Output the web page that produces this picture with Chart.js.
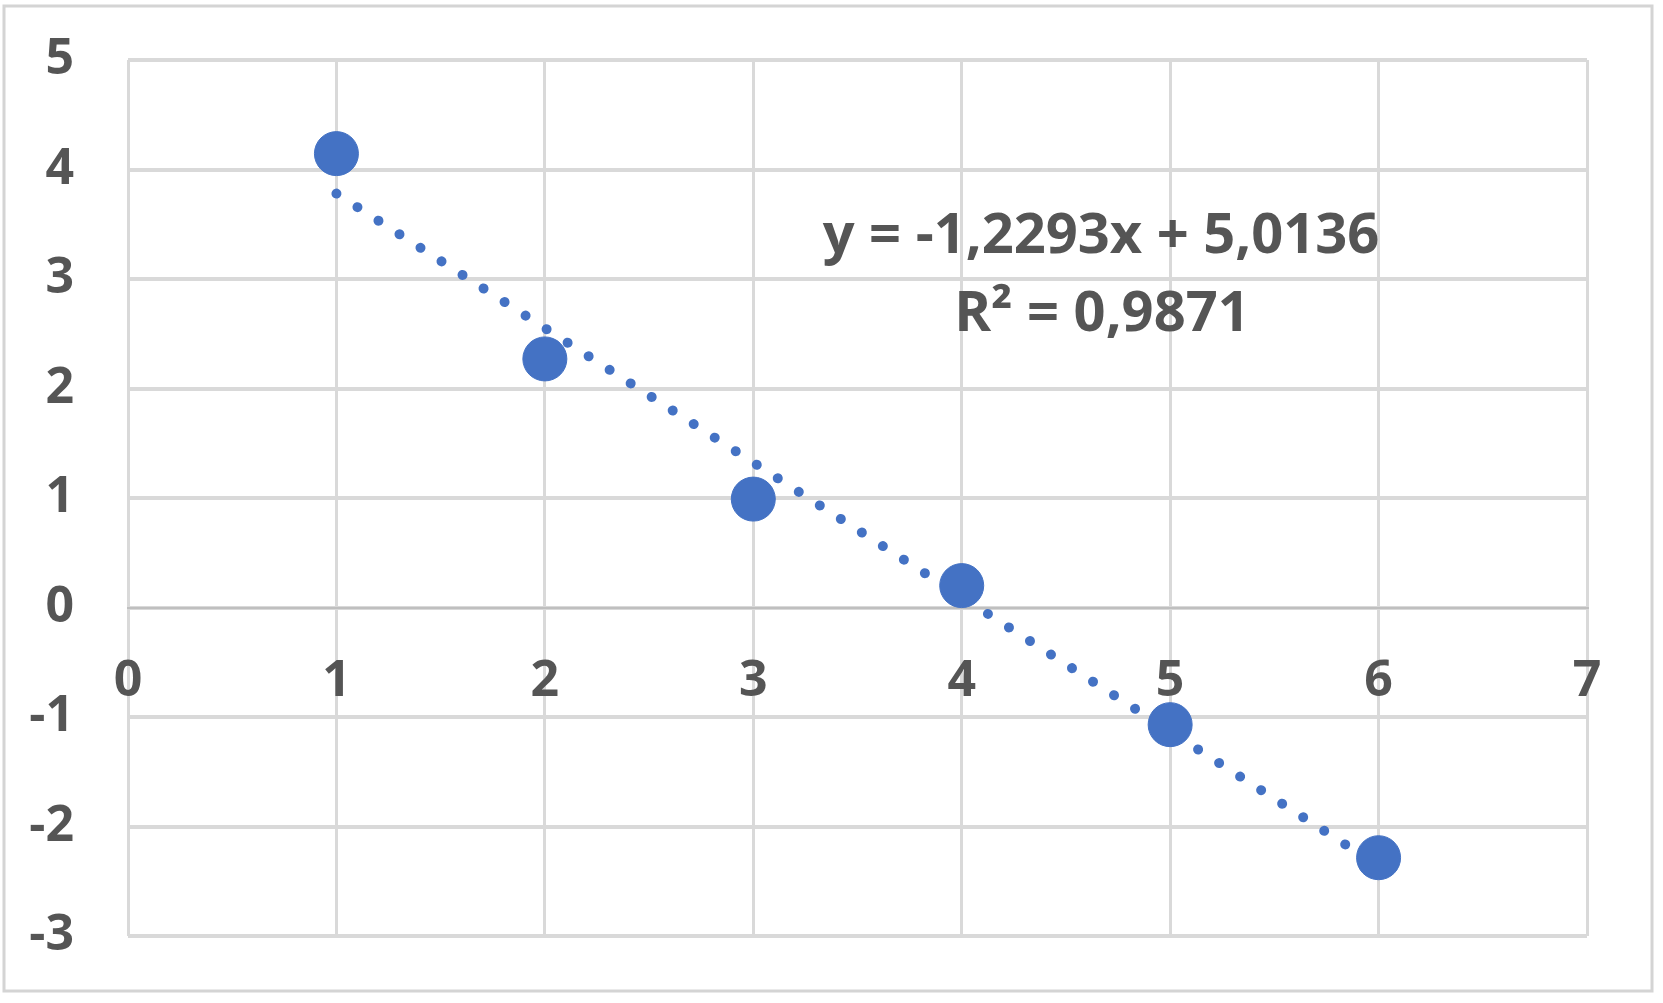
<!DOCTYPE html>
<html>
<head>
<meta charset="utf-8">
<script src="https://cdn.jsdelivr.net/npm/chart.js@4/dist/chart.umd.min.js"></script>
<style>
  html, body { margin: 0; padding: 0; background: #fff; }
  #chart { display: block; }
</style>
</head>
<body>
<canvas id="chart" width="1663" height="1003"></canvas>
<script>
// Data
const xValues = [1, 2, 3, 4, 5, 6];
const yValues = [4.145, 2.27, 0.99, 0.2, -1.07, -2.285];

// Dotted trend line ends (x = 1 and x = 6)
const trendX = [1, 6];
const trendY = [3.78, -2.36];

const equationText = 'y = -1,2293x + 5,0136';
const rSquaredText = 'R\u00B2 = 0,9871';

const textColor = '#555555';
const gridColor = '#d9d9d9';
const pointColor = '#4472C4';
const fontFamily = '"Open Sans", Lato, sans-serif';

// Outer frame + equation label
const framePlugin = {
    id: 'frame',
    beforeDraw(chart) {
        const ctx = chart.ctx;
        ctx.save();
        ctx.fillStyle = '#fff';
        ctx.fillRect(0, 0, chart.width, chart.height);
        ctx.strokeStyle = '#d4d4d4';
        ctx.lineWidth = 3;
        ctx.strokeRect(4, 6, 1648, 985);
        ctx.restore();
    },
    afterDatasetsDraw(chart) {
        const ctx = chart.ctx;
        ctx.save();
        ctx.fillStyle = textColor;
        ctx.font = 'bold 56px ' + fontFamily;
        ctx.textAlign = 'center';
        ctx.textBaseline = 'middle';
        ctx.fillText(equationText, 1101, 237);
        ctx.fillText(rSquaredText, 1102, 315);
        ctx.restore();
    }
};

const ctx = document.getElementById('chart').getContext('2d');

new Chart(ctx, {
    type: 'scatter',
    data: {
        datasets: [
            {
                label: 'Trend',
                data: trendX.map((x, i) => ({ x: x, y: trendY[i] })),
                showLine: true,
                borderColor: pointColor,
                borderWidth: 10,
                borderCapStyle: 'round',
                borderDash: [0.01, 25],
                pointRadius: 0,
                order: 2
            },
            {
                label: 'Data',
                data: xValues.map((x, i) => ({ x: x, y: yValues[i] })),
                backgroundColor: pointColor,
                borderColor: pointColor,
                pointRadius: 22,
                pointHoverRadius: 22,
                order: 1
            }
        ]
    },
    options: {
        responsive: false,
        animation: false,
        layout: {
            padding: { top: 60, right: 76, bottom: 67, left: 28 }
        },
        plugins: {
            legend: { display: false },
            tooltip: { enabled: false }
        },
        scales: {
            x: {
                type: 'linear',
                position: { y: 0 },
                min: 0,
                max: 7,
                afterFit(scale) {
                    scale.height = 0;
                },
                ticks: {
                    stepSize: 1,
                    color: textColor,
                    padding: 44,
                    font: { family: fontFamily, size: 50, weight: 'bold' }
                },
                grid: {
                    color: gridColor,
                    lineWidth: 3,
                    tickLength: 0
                },
                border: { display: true, color: '#bfbfbf', width: 2 }
            },
            y: {
                min: -3,
                max: 5,
                afterFit(scale) {
                    // tick padding should only push labels sideways
                    scale.width = 100;
                    scale.paddingTop = 0;
                    scale.paddingBottom = 0;
                },
                ticks: {
                    stepSize: 1,
                    color: textColor,
                    padding: 54,
                    font: { family: fontFamily, size: 50, weight: 'bold' }
                },
                grid: {
                    color: gridColor,
                    lineWidth: 4,
                    tickLength: 0
                },
                border: { display: false }
            }
        }
    },
    plugins: [framePlugin]
});
</script>
</body>
</html>
